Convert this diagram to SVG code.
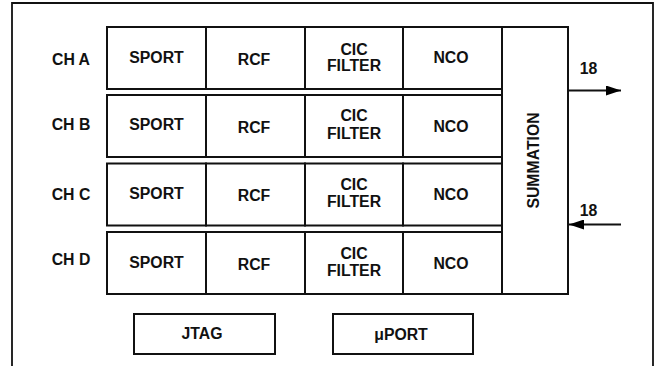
<svg xmlns="http://www.w3.org/2000/svg" width="659" height="366" viewBox="0 0 659 366">
<defs>
<marker id="ah" markerUnits="userSpaceOnUse" markerWidth="16" markerHeight="10" refX="15" refY="5" orient="auto">
<path d="M0,0 L15,5 L0,10 Z" fill="#000"/>
</marker>
<style>
.box{fill:#fff;stroke:#111;stroke-width:2}
.frame{fill:none;stroke:#111;stroke-width:1.8}
.t{font-family:"Liberation Sans",Arial,sans-serif;font-weight:bold;font-size:15.8px;fill:#111;text-anchor:middle}
.w{stroke:#111;stroke-width:2;fill:none}
</style>
</defs>
<rect width="659" height="366" fill="#fff"/>
<path class="frame" d="M12,368 L12,3 L653,3 L653,368"/>

<g id="row-a">
<text class="t" x="71" y="64.5">CH A</text>
<g id="a-sport"><rect class="box" x="107" y="27" width="99" height="62"/><text class="t" x="156.5" y="62.5">SPORT</text></g>
<g id="a-rcf"><rect class="box" x="206" y="27" width="99" height="62"/><text class="t" x="254" y="64.5">RCF</text></g>
<g id="a-cic"><rect class="box" x="305" y="27" width="98" height="62"/><text class="t" x="354" y="54.5">CIC</text><text class="t" x="354" y="71">FILTER</text></g>
<g id="a-nco"><rect class="box" x="403" y="27" width="99" height="62"/><text class="t" x="451" y="63">NCO</text></g>
</g>

<g id="row-b">
<text class="t" x="71" y="129.5">CH B</text>
<g id="b-sport"><rect class="box" x="107" y="95" width="99" height="62"/><text class="t" x="156.5" y="130">SPORT</text></g>
<g id="b-rcf"><rect class="box" x="206" y="95" width="99" height="62"/><text class="t" x="254" y="132.5">RCF</text></g>
<g id="b-cic"><rect class="box" x="305" y="95" width="98" height="62"/><text class="t" x="354" y="121">CIC</text><text class="t" x="354" y="138.5">FILTER</text></g>
<g id="b-nco"><rect class="box" x="403" y="95" width="99" height="62"/><text class="t" x="451" y="131.5">NCO</text></g>
</g>

<g id="row-c">
<text class="t" x="71" y="199.5">CH C</text>
<g id="c-sport"><rect class="box" x="107" y="163.5" width="99" height="62"/><text class="t" x="156.5" y="198.5">SPORT</text></g>
<g id="c-rcf"><rect class="box" x="206" y="163.5" width="99" height="62"/><text class="t" x="254" y="201">RCF</text></g>
<g id="c-cic"><rect class="box" x="305" y="163.5" width="98" height="62"/><text class="t" x="354" y="190">CIC</text><text class="t" x="354" y="207">FILTER</text></g>
<g id="c-nco"><rect class="box" x="403" y="163.5" width="99" height="62"/><text class="t" x="451" y="200">NCO</text></g>
</g>

<g id="row-d">
<text class="t" x="71" y="264.5">CH D</text>
<g id="d-sport"><rect class="box" x="107" y="232" width="99" height="62"/><text class="t" x="156.5" y="268">SPORT</text></g>
<g id="d-rcf"><rect class="box" x="206" y="232" width="99" height="62"/><text class="t" x="254" y="270">RCF</text></g>
<g id="d-cic"><rect class="box" x="305" y="232" width="98" height="62"/><text class="t" x="354" y="259">CIC</text><text class="t" x="354" y="276">FILTER</text></g>
<g id="d-nco"><rect class="box" x="403" y="232" width="99" height="62"/><text class="t" x="451" y="268.5">NCO</text></g>
</g>

<g id="summation">
<rect class="box" x="502" y="27" width="66" height="267"/>
<text class="t" transform="translate(538.5,160.5) rotate(-90)" x="0" y="0">SUMMATION</text>
</g>

<g id="jtag"><rect class="box" x="134" y="314" width="141" height="40"/><text class="t" x="202" y="338.5">JTAG</text></g>
<g id="uport"><rect class="box" x="333" y="314" width="140" height="40"/><text class="t" x="401" y="339.5">μPORT</text></g>

<g id="connectors">
<line class="w" x1="568" y1="90.5" x2="621" y2="90.5" marker-end="url(#ah)"/>
<text class="t" x="588.5" y="73.5">18</text>
<line class="w" x1="621" y1="224.5" x2="569" y2="224.5" marker-end="url(#ah)"/>
<text class="t" x="588.5" y="215.5">18</text>
</g>
</svg>
